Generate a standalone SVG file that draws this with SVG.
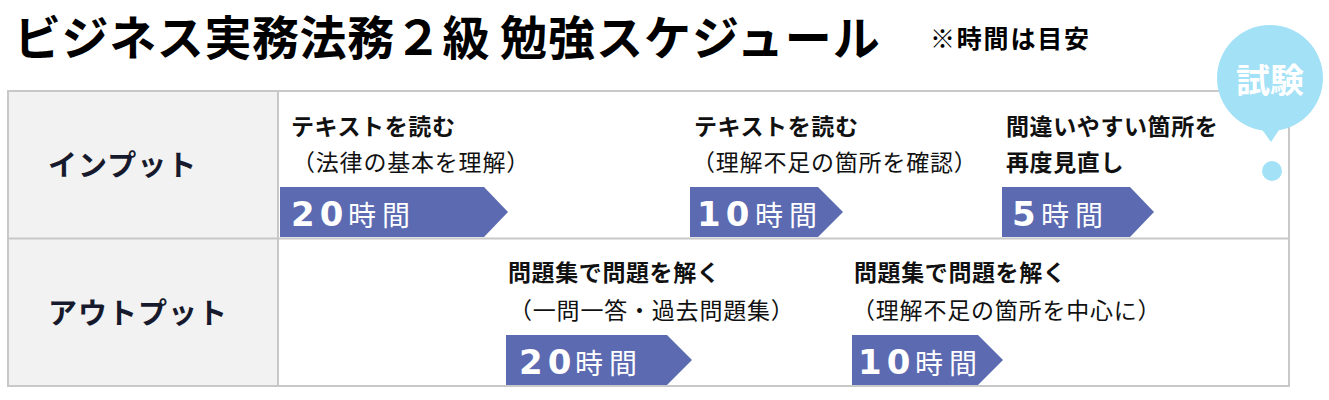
<svg xmlns="http://www.w3.org/2000/svg" width="1329" height="400" viewBox="0 0 1329 400">
<style>
.title{font-family:"Noto Sans CJK JP","Noto Sans",sans-serif;font-weight:700;font-size:47px;fill:#000}
.note{font-family:"Noto Sans CJK JP","Noto Sans",sans-serif;font-weight:700;font-size:25px;fill:#000;letter-spacing:1.8px}
.label{font-family:"Noto Sans CJK JP","Noto Sans",sans-serif;font-weight:700;font-size:29px;fill:#161a2c;letter-spacing:1px}
.head{font-family:"Noto Sans CJK JP","Noto Sans",sans-serif;font-weight:700;font-size:23px;fill:#111;letter-spacing:0.6px}
.sub{font-family:"Noto Sans CJK JP","Noto Sans",sans-serif;font-weight:400;font-size:23px;fill:#111;letter-spacing:0.8px}
.chev{fill:#5b6ab1}
.num{font-family:"DejaVu Sans","Noto Sans CJK JP",sans-serif;font-weight:700;font-size:34px;fill:#fff;letter-spacing:5px}
.unit{font-family:"Noto Sans CJK JP","Noto Sans",sans-serif;font-weight:400;font-size:28px;fill:#fff;letter-spacing:6px}
.cell{fill:#f2f2f2}
.grid{fill:none;stroke:#c8c8c8;stroke-width:2}
.bubble{fill:#a3e1f7}
.exam{font-family:"Noto Sans CJK JP","Noto Sans",sans-serif;font-weight:700;font-size:34px;fill:#fff}
</style>
<rect width="1329" height="400" fill="#fff"/>

<g id="title">
<text class="title" x="14" y="55" style="letter-spacing:0.6px">ビジネス実務法務２級</text>
<text class="title" x="500" y="55" style="letter-spacing:1px">勉強スケジュール</text>
<text class="note" x="930" y="48">※時間は目安</text>
</g>

<g id="table">
<rect class="cell" x="8" y="91" width="270" height="295"/>
<rect class="grid" x="8" y="91" width="1281" height="295"/>
<line class="grid" x1="8" y1="238.5" x2="1289" y2="238.5"/>
<line class="grid" x1="278" y1="91" x2="278" y2="386"/>
</g>

<g id="row-input">
<text class="label" x="48" y="176">インプット</text>
</g>
<g id="row-output">
<text class="label" x="48" y="324">アウトプット</text>
</g>

<g id="input-1">
<text class="head" x="291" y="135">テキストを読む</text>
<text class="sub" x="292" y="171">（法律の基本を理解）</text>
<polygon class="chev" points="280,187 484,187 508,212 484,237 280,237"/>
<text class="num" x="291" y="226">20</text>
<text class="unit" x="348" y="226">時間</text>
</g>

<g id="input-2">
<text class="head" x="694" y="135">テキストを読む</text>
<text class="sub" x="692" y="171">（理解不足の箇所を確認）</text>
<polygon class="chev" points="690,187 818,187 843,212 818,237 690,237"/>
<text class="num" x="697" y="226">10</text>
<text class="unit" x="755" y="226">時間</text>
</g>

<g id="input-3">
<text class="head" x="1006" y="135">間違いやすい箇所を</text>
<text class="head" x="1006" y="171">再度見直し</text>
<polygon class="chev" points="1002,187 1130,187 1154,212 1130,237 1002,237"/>
<text class="num" x="1012" y="226">5</text>
<text class="unit" x="1041" y="226">時間</text>
</g>

<g id="output-1">
<text class="head" x="508" y="281">問題集で問題を解く</text>
<text class="sub" x="509" y="319">（一問一答・過去問題集）</text>
<polygon class="chev" points="506,335 667,335 692,360 667,385 506,385"/>
<text class="num" x="519" y="374">20</text>
<text class="unit" x="575" y="374">時間</text>
</g>

<g id="output-2">
<text class="head" x="854" y="281">問題集で問題を解く</text>
<text class="sub" x="852" y="319">（理解不足の箇所を中心に）</text>
<polygon class="chev" points="852,335 978,335 1003,360 978,385 852,385"/>
<text class="num" x="858" y="374">10</text>
<text class="unit" x="915" y="374">時間</text>
</g>

<g id="exam">
<circle class="bubble" cx="1270" cy="78" r="53"/>
<polygon class="bubble" points="1258,124 1283,124 1271,142"/>
<text class="exam" x="1270" y="93" text-anchor="middle">試験</text>
<circle class="bubble" cx="1272" cy="171" r="10"/>
</g>

<g id="connectors"/>
</svg>
